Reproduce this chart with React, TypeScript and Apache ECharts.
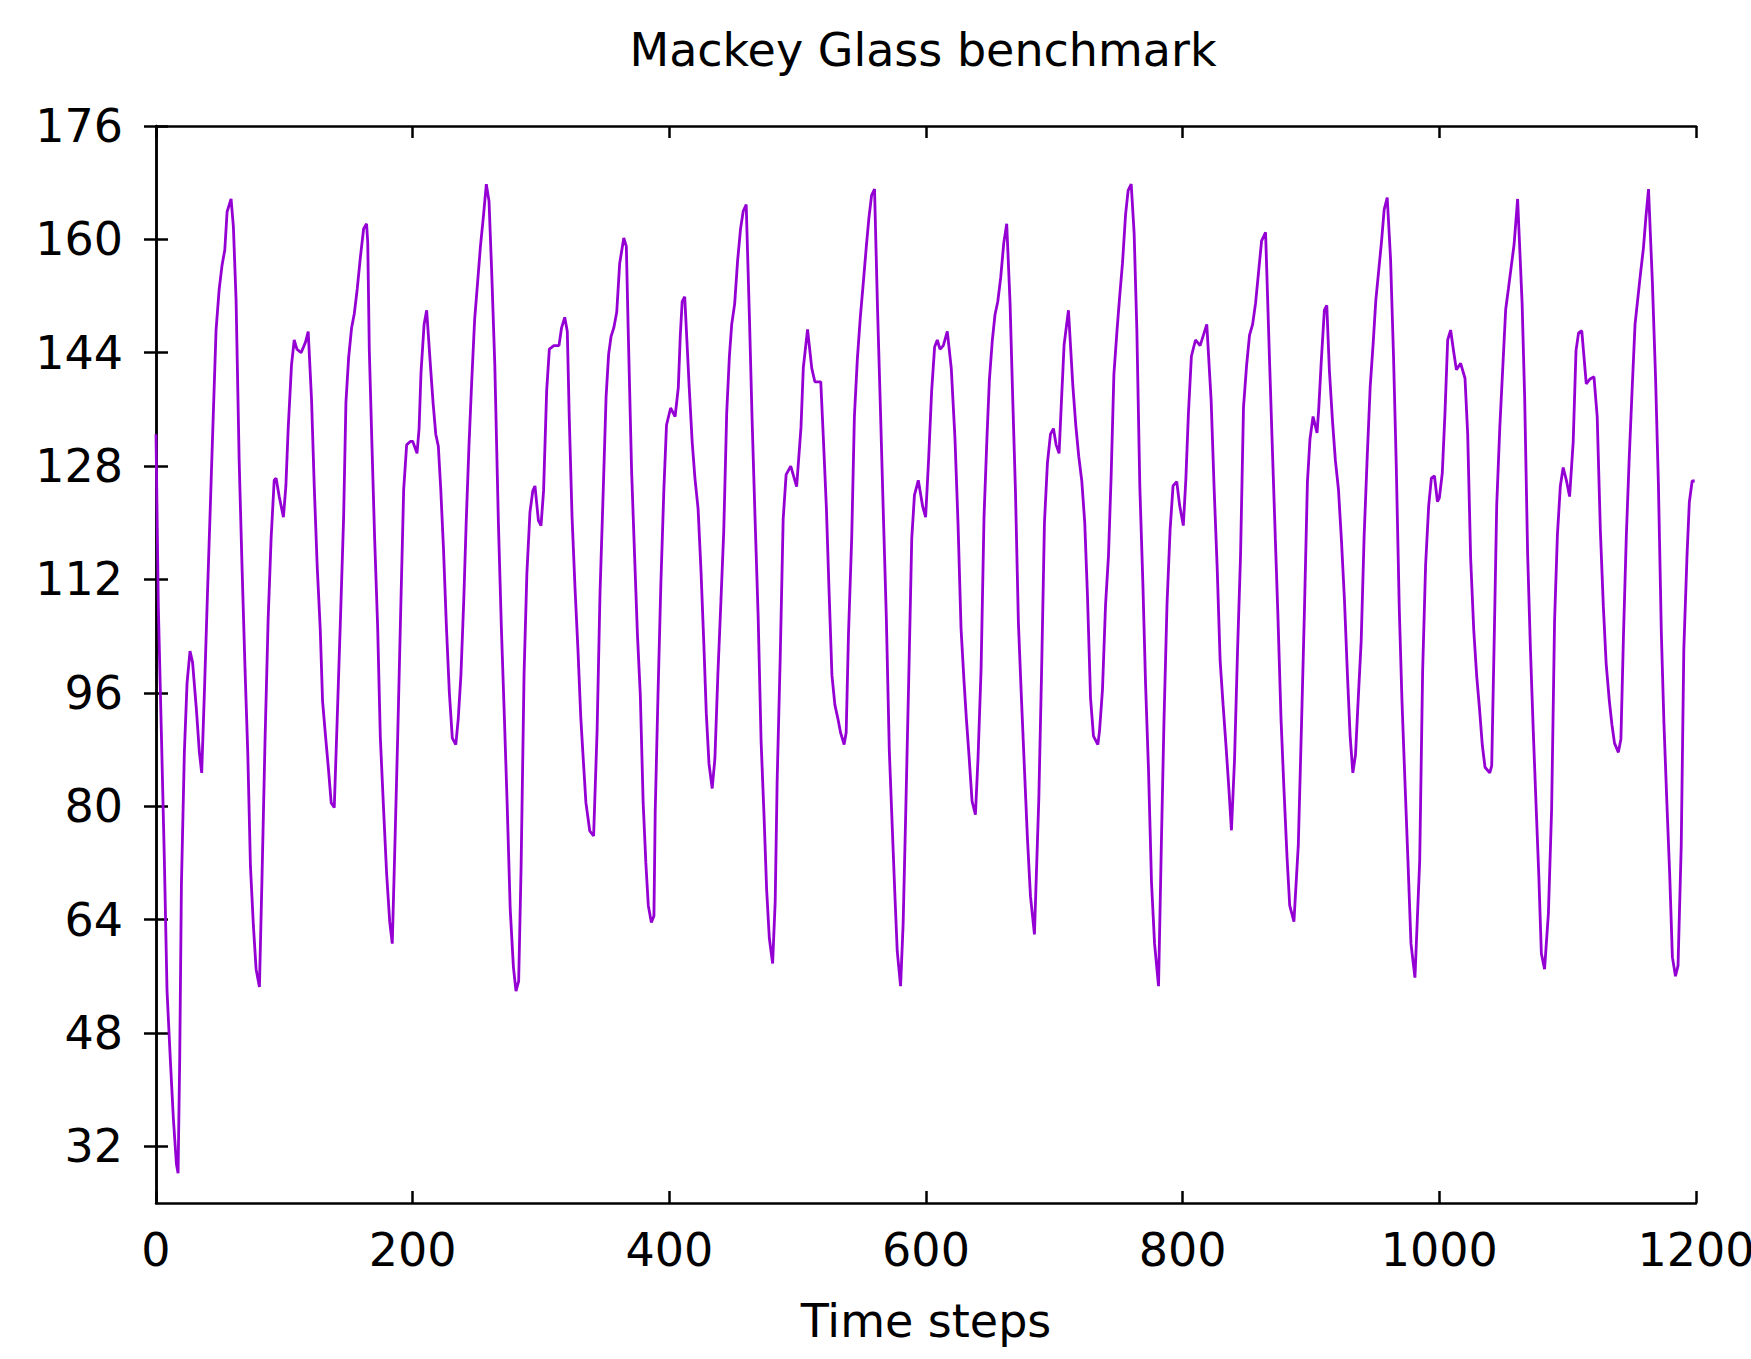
import { useEffect, useRef } from "react";
import * as echarts from "echarts";

const chartTitle = "Mackey Glass benchmark";
const xAxisName = "Time steps";
const yTickValues = [32, 48, 64, 80, 96, 112, 128, 144, 160, 176];

// [time step, value]
const steps0to200: number[][] = [
  [0, 132.5], [1.8, 108.3], [4.4, 88.7], [6.5, 72.5], [8.6, 53.9], [11.2, 44.1], [13.5, 36], [15.9, 29.5],
  [17.2, 28.2], [18.5, 44.7], [19.8, 68.8], [22.1, 87.6], [24.2, 97.4], [26.5, 101.9], [28.5, 100.3], [31.5, 93.6],
  [33.8, 87.6], [35.6, 84.7], [37.7, 96], [40, 109.4], [42.4, 122.7], [44.5, 134.5], [46.8, 147.2], [49.2, 152.9],
  [51.5, 156.4], [53.6, 158.5], [55.4, 163.9], [58.5, 165.7], [60.3, 161.8], [62.4, 151.4], [64.8, 128.8],
  [67.1, 113.4], [69.4, 99.2], [71.5, 87.6], [73.6, 71.5], [75.9, 63.1], [78, 57], [80.6, 54.5], [82.7, 70.7],
  [85, 89.6], [87.4, 106.5], [89.7, 117.8], [92.1, 126], [93.6, 126.3], [96, 123.7], [99.3, 120.8], [101.2, 125.2],
  [103, 133.3], [105.6, 142.3], [107.7, 145.8], [109.8, 144.5], [113.1, 144], [116.5, 145.5], [118.6, 147],
  [121.2, 137.4], [123.3, 125.2], [125.6, 113.9], [128, 104.9], [129.8, 94.8], [132.1, 89.9], [134.5, 85],
  [136.5, 80.5], [138.9, 79.8], [141.2, 92.3], [143.8, 106.8], [146.2, 120.8], [148, 137], [150.1, 143.3],
  [152.4, 147.5], [154.5, 149.5], [156.8, 153], [159.2, 157.4], [161.8, 161.5], [164.1, 162.2], [165, 159.5],
  [166.2, 144.5], [168.3, 130.8], [170.4, 117.6], [172.7, 105.4], [174.8, 89.7], [177.4, 79.3], [179.7, 70.5],
  [182.1, 63.7], [184.1, 60.6], [186, 73.4], [188.3, 89.6], [190.6, 107], [193, 124.7], [195.3, 131], [198.4, 131.5],
];

const steps200to400: number[][] = [
  [200, 131.5], [203.4, 129.8], [205, 133.3], [206.5, 141.2], [208.9, 148], [210.9, 150], [213.8, 142.3],
  [216, 136.7], [218, 132.5], [220, 130.8], [221.9, 124.7], [224, 116.4], [226.3, 105.3], [228.6, 96],
  [230.9, 89.6], [233.6, 88.7], [235.5, 92.3], [237.6, 98.5], [239.8, 109], [241.7, 120], [243.9, 131],
  [246, 139.9], [248.3, 148.7], [250.5, 153.7], [252.8, 159], [255, 163], [257.4, 167.8], [259.5, 165.4],
  [261.5, 155.8], [264, 142.3], [266.8, 120], [269.1, 105.3], [271.5, 92.3], [273.6, 80.5], [276, 65.5],
  [278.5, 57.3], [280.5, 53.9], [282.6, 55.3], [284.5, 71.5], [286.8, 98.7], [289, 112.9], [291.4, 121.5],
  [293.6, 124.5], [295.3, 125.2], [298, 120.3], [300, 119.6], [302, 124.5], [304.4, 138.6], [306.5, 144.5],
  [310, 145], [314, 145], [316, 147.5], [318.5, 149], [320.5, 147], [322, 135], [324.2, 120.8], [326.5, 110.8],
  [328.8, 102.1], [331, 92.5], [333, 86.4], [335, 80.5], [338, 76.5], [341, 75.8], [343.7, 90.6], [346, 110.2],
  [348.4, 124], [350.7, 137.7], [352.7, 143.8], [354.6, 146.3], [356.7, 147.5], [359, 149.7], [361.3, 156.6],
  [364.5, 160.2], [366.5, 159], [368, 146.8], [370.6, 127.3], [373, 115], [375.1, 104.4], [377.4, 95.6],
  [379.6, 80.5], [381.7, 72], [383.6, 66], [386, 63.6], [388, 64.5], [389, 79.3], [391.2, 96], [393.4, 111.4],
  [395.7, 124.5], [397.8, 133.8],
];

const steps400to600: number[][] = [
  [401, 136.2], [404.5, 135], [407, 139.1], [408.5, 146.3], [410, 151.2], [412, 151.9], [415.5, 139.1],
  [417.8, 131.4], [420, 126.2], [422.4, 122], [424.7, 113.1], [426.8, 103.3], [428.8, 93.1], [430.9, 86],
  [433.4, 82.5], [435.5, 86.7], [437.8, 98.5], [440.1, 108.5], [442.4, 118.8], [444.7, 135.5], [446.8, 143.5],
  [448.6, 148], [450.9, 150.9], [453.2, 157], [455.5, 161.5], [457.6, 164], [459.9, 164.9], [462.5, 148.4],
  [464.5, 134.5], [466.8, 120.6], [469.2, 106.8], [471.5, 89.2], [473.8, 78.6], [475.8, 68.3], [477.9, 61.4],
  [480.5, 57.8], [482.5, 66.6], [484, 83.5], [486.4, 101], [488.7, 120.5], [491, 126.8], [494.6, 128],
  [499.2, 125.1], [502.6, 133.5], [504.4, 141.9], [507.7, 147.3], [511, 141.8], [513.4, 139.9], [518, 139.9],
  [520, 132], [522.4, 122], [524.4, 110.7], [526.7, 98.5], [529, 94.3], [531.4, 92.3], [533.4, 90.4],
  [536.2, 88.7], [537.8, 90.4], [539.6, 104.3], [542.1, 117.8], [544.2, 135], [546.5, 143.1], [548.8, 149],
  [551.1, 153.8], [553.5, 159], [555.5, 163], [557.6, 166.2], [559.9, 167.1], [562.2, 150.4], [564.5, 136],
  [566.8, 121], [569.1, 106.5], [571.4, 87.9], [573.8, 76.6], [575.8, 67.3], [577.6, 59.5], [580.2, 54.6],
  [582.2, 63.5], [584.3, 79.8], [586.6, 98.4], [588.9, 117.8], [591, 123.9], [594, 126], [597.4, 122.3],
];

const steps600to800: number[][] = [
  [599.7, 120.8], [602, 128.8], [604.4, 138.6], [606.7, 144.8], [608.8, 145.8], [610.9, 144.5], [613.5, 145],
  [616.6, 147], [619.7, 141.8], [622.6, 131.8], [625, 119.6], [627.3, 105.1], [629.6, 97.7], [631.4, 92.5],
  [633.5, 87.2], [635.9, 80.7], [638.5, 78.8], [640.5, 86.6], [642.9, 99.2], [645.2, 120.8], [647.6, 132.5],
  [649.4, 140.2], [651.7, 145.8], [653.8, 149.4], [655.9, 151.2], [658.2, 154.6], [660.6, 159.5], [662.9, 162.2],
  [665.5, 151], [667.6, 137.4], [669.7, 124.5], [672, 105.9], [674.3, 95.5], [676.7, 85.3], [679, 75.6],
  [681.4, 67.3], [684.5, 61.9], [687.9, 81], [690, 98.4], [692.3, 120], [694.6, 128.4], [697, 132.5],
  [699.3, 133.3], [701.4, 131], [703.7, 129.8], [705.5, 137], [707.6, 145.1], [711, 150], [714.4, 139.4],
  [716.7, 133.8], [719, 129.4], [721.4, 125.9], [723.7, 120], [725.8, 109.8], [728.2, 95.3], [730.5, 89.9],
  [733.9, 88.7], [735.2, 90.6], [737.5, 96.4], [739.9, 108.4], [742.2, 115.4], [744.3, 126.8], [746.4, 140.9],
  [748.7, 146.8], [750.8, 151.7], [753.1, 156.6], [755.5, 163.5], [757.5, 166.9], [759.9, 167.8], [762.2, 160.8],
  [764.3, 147.2], [766.6, 125.2], [769, 111.4], [771.1, 97.2], [773.4, 85], [775.7, 69.3], [778.1, 60.6],
  [781.2, 54.6], [783.4, 74.7], [785.5, 92.5], [787.8, 108.5], [790.2, 119], [792.5, 125.2], [795.4, 125.8],
  [797.6, 122.5],
];

const steps800to1000: number[][] = [
  [800.5, 119.6], [802.5, 126.2], [804.5, 135.5], [806.8, 143.5], [810, 145.8], [813.6, 145], [818.8, 148],
  [822.2, 137.2], [824.5, 124.9], [826.9, 113.6], [829.2, 100.5], [831.5, 94.3], [833.9, 88.2], [836, 82.5],
  [838, 76.6], [840.4, 86.5], [842.7, 101.6], [845.1, 115.4], [847.4, 136.3], [849.8, 142.2], [852.1, 146.5],
  [854.5, 148], [856.8, 151], [859.1, 155.3], [861.5, 159.8], [864.6, 161], [867.5, 144], [869.8, 131],
  [872.2, 117.8], [874.2, 107], [876.6, 92.5], [878.9, 82.5], [881.3, 72.9], [883.4, 66], [886.7, 63.7],
  [890.1, 74.5], [892.5, 90.8], [894.8, 107], [897.2, 125.7], [899.2, 131.8], [901.6, 135], [904.7, 132.7],
  [906, 136], [908.1, 143.1], [910.4, 150], [912.3, 150.7], [914.3, 141.6], [916.7, 134.5], [919, 128.8],
  [921.4, 124.7], [923.7, 117.6], [926.1, 109], [928.4, 98.5], [930.5, 89.9], [932.6, 84.7], [934.7, 87.3],
  [936.7, 94.8], [939.1, 103.3], [941.4, 118.1], [943.8, 129.3], [946.1, 139.1], [948.5, 145.5], [950.5, 151.4],
  [952.6, 155.3], [955, 159.8], [957, 164.2], [959.4, 165.9], [962, 157.2], [964.3, 143.5], [966.4, 128.4],
  [968.8, 107.8], [970.9, 94.8], [973.2, 83.5], [975.5, 72.5], [977.9, 60.6], [981, 55.8], [984.7, 72.3],
  [987, 99.2], [989.3, 114], [991.7, 122.4], [993.8, 126.3], [996.2, 126.6], [998.5, 123],
];

const steps1000to1200: number[][] = [
  [1000, 123.5], [1002.3, 127], [1004.4, 135.5], [1006.5, 145.8], [1008.8, 147.2], [1011.2, 144.1],
  [1013.3, 141.6], [1016.6, 142.5], [1020, 140.4], [1022.1, 132.5], [1024.4, 115], [1026.8, 104.9],
  [1029.1, 98.4], [1031.2, 94], [1033.5, 88.6], [1035.6, 85.5], [1039.3, 84.7], [1040.8, 85.7], [1042.9, 104.8],
  [1044.7, 122.4], [1047.1, 133.4], [1049.4, 141.8], [1051.7, 150.1], [1053.8, 153], [1056.2, 156.4],
  [1058.2, 159.2], [1061, 165.7], [1064.5, 151], [1066.5, 137.6], [1068.8, 115.6], [1071, 102.1], [1073.2, 90.6],
  [1075.5, 79.6], [1077.5, 70.3], [1079.5, 59.2], [1082, 57], [1085, 64.9], [1087.5, 79.6], [1089.8, 106.2],
  [1092, 118.3], [1094.3, 125.2], [1096.5, 127.8], [1099, 126], [1101.5, 123.7], [1104.3, 131.4],
  [1106.5, 144.3], [1108.5, 146.8], [1111, 147.1], [1114.5, 139.6], [1117.5, 140.3], [1120.5, 140.6],
  [1123, 135], [1125.5, 118.8], [1127.8, 108.2], [1130, 100.1], [1132.5, 94.8], [1134.5, 91.5], [1136.5, 88.9],
  [1139.5, 87.6], [1141.5, 89.5], [1143.5, 104.2], [1145.7, 118.1], [1148, 129.3], [1150.3, 139.1],
  [1152.5, 148], [1154.5, 151.4], [1156.7, 155.1], [1159, 158.7], [1161, 163.2], [1163, 167.1], [1166, 154],
  [1168.5, 140.4], [1170.7, 125.5], [1173, 104.4], [1175, 91.8], [1177.3, 80.5], [1179.5, 70.4],
  [1181.6, 58.7], [1184, 56], [1186, 57.5], [1188.5, 74.5], [1190.5, 102.1], [1193, 115.4], [1194.8, 122.9],
  [1197, 125.9], [1199, 125.9],
];

const FONT = "'DejaVu Sans', sans-serif";
const FONT_SIZE = 46;

export default function App() {
  const ref = useRef<HTMLDivElement>(null);

  useEffect(() => {
    if (!ref.current) return;
    const chart = echarts.init(ref.current, null, { renderer: "svg" });
    const seriesData = [
      ...steps0to200,
      ...steps200to400,
      ...steps400to600,
      ...steps600to800,
      ...steps800to1000,
      ...steps1000to1200,
    ];
    const axisLine = { show: true, lineStyle: { color: "#000", width: 2.5 } };
    const tick = { show: true, inside: true, length: 12, lineStyle: { color: "#000", width: 2.5 } };
    const labelStyle = { color: "#000", fontFamily: FONT, fontSize: FONT_SIZE };

    chart.setOption({
      animation: false,
      backgroundColor: "#ffffff",
      grid: {
        left: 156,
        right: 55,
        top: 126,
        bottom: 156,
        containLabel: false,
        outerBoundsMode: "none",
      },
      graphic: [
        {
          type: "text",
          x: 923,
          y: 50,
          style: {
            text: chartTitle,
            fill: "#000",
            font: `${FONT_SIZE}px ${FONT}`,
            textAlign: "center",
            textVerticalAlign: "middle",
          },
        },
      ],
      xAxis: [
        {
          type: "value",
          position: "bottom",
          min: 0,
          max: 1200,
          interval: 200,
          axisLine,
          axisTick: tick,
          axisLabel: { ...labelStyle, margin: 24, formatter: (v: number) => String(v), hideOverlap: false },
          splitLine: { show: false },
          name: xAxisName,
          nameLocation: "middle",
          nameGap: 95,
          nameTextStyle: { ...labelStyle },
        },
        {
          type: "value",
          position: "top",
          min: 0,
          max: 1200,
          interval: 200,
          axisLine,
          axisTick: tick,
          axisLabel: { show: false },
          splitLine: { show: false },
        },
      ],
      yAxis: [
        {
          type: "value",
          position: "left",
          min: 24,
          max: 176,
          axisLine,
          axisTick: { ...tick, customValues: yTickValues },
          axisLabel: { ...labelStyle, margin: 33, customValues: yTickValues },
          splitLine: { show: false },
        },
        {
          type: "value",
          position: "right",
          min: 24,
          max: 176,
          axisLine,
          axisTick: { ...tick, customValues: yTickValues },
          axisLabel: { show: false },
          splitLine: { show: false },
        },
      ],
      series: [
        {
          type: "line",
          xAxisIndex: 0,
          yAxisIndex: 0,
          data: seriesData,
          showSymbol: false,
          symbol: "none",
          lineStyle: { color: "#9400d3", width: 2.8 },
          silent: true,
        },
      ],
    });
    return () => chart.dispose();
  }, []);

  return (
    <div
      ref={ref}
      style={{ position: "fixed", left: 0, top: 0, width: 1751, height: 1359, background: "#fff" }}
    />
  );
}
